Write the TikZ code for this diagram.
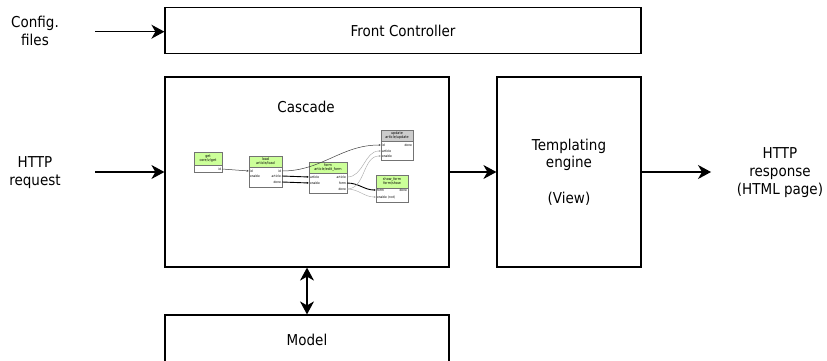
\documentclass[tikz,border=0pt]{standalone}
\usepackage{fontspec}
\setmainfont{DejaVu Sans}[FakeStretch=0.9]
\usetikzlibrary{arrows.meta}

\definecolor{hdgreen}{HTML}{CCFF99}
\definecolor{hdgray}{HTML}{CCCCCC}

\tikzset{
  block/.style={draw, line width=1.2pt, fill=white, font=\fontsize{15}{17.7}\selectfont, align=center},
  txt/.style={font=\fontsize{15}{17.7}\selectfont, align=center},
  flow/.style={line width=1.2pt, -{Stealth[length=13pt,width=14pt,inset=4pt]}},
  cell/.style={draw=black!55, line width=0.5pt, fill=white, inner sep=0pt},
  head/.style={draw=black!55, line width=0.5pt, inner sep=0pt, font=\fontsize{3.7}{4.3}\selectfont, align=center},
  port/.style={font=\fontsize{3.3}{3.8}\selectfont, inner sep=0.8pt},
  wire/.style={line width=0.5pt, draw=black!75, -{Latex[length=2.2pt,width=2pt]}},
  fat/.style={wire, line width=0.9pt, draw=black},
  pale/.style={wire, line width=0.4pt, draw=black!35},
}

\begin{document}
\begin{tikzpicture}[x=1pt,y=-1pt]
  \clip (0,0) rectangle (827,361);

  % main blocks
  \node[block, minimum width=476, minimum height=46] (front) at (403,30.5) {Front Controller};
  \node[block, minimum width=284, minimum height=190] (cascade) at (307,172) {};
  \node[txt] (casctitle) at (306,106.5) {Cascade};
  \node[block, minimum width=144, minimum height=190] (tmpl) at (569,172) {Templating\\engine\\[17.7pt](View)};
  \node[block, minimum width=284, minimum height=50] (model) at (307,340) {Model};

  % outside texts
  \node[txt] (config) at (35,31) {Config.\\files};
  \node[txt] (request) at (35,172.5) {HTTP\\request};
  \node[txt] (response) at (780,172.5) {HTTP\\response\\(HTML page)};
  \coordinate (cfgin) at (95,31.7);
  \coordinate (reqin) at (95,172);
  \coordinate (respout) at (711,172);

  \draw[flow] (cfgin) -- (cfgin -| front.west);
  \draw[flow] (reqin) -- (cascade.west);
  \draw[flow] (cascade.east) -- (tmpl.west);
  \draw[flow] (tmpl.east) -- (respout);
  \draw[flow, {Stealth[length=13pt,width=14pt,inset=4pt]}-{Stealth[length=13pt,width=14pt,inset=4pt]}] (cascade.south) -- (model.north);

  % cascade components
  \node[cell, minimum width=28, minimum height=20] (get) at (208,162) {};
  \node[head, fill=hdgreen, minimum width=28, minimum height=13, anchor=north] (gethd) at (get.north) {get\\core/v/get};
  \node[cell, minimum width=33, minimum height=31] (load) at (265.5,171.5) {};
  \node[head, fill=hdgreen, minimum width=33, minimum height=11, anchor=north] (loadhd) at (load.north) {load\\article/load};
  \node[cell, minimum width=38, minimum height=31] (form) at (328,177.5) {};
  \node[head, fill=hdgreen, minimum width=38, minimum height=11, anchor=north] (formhd) at (form.north) {form\\article/edit\_form};
  \node[cell, minimum width=32, minimum height=30] (update) at (397,145) {};
  \node[head, fill=hdgray, minimum width=32, minimum height=11, anchor=north] (updatehd) at (update.north) {update\\article/update};
  \node[cell, minimum width=32, minimum height=27] (show) at (392,188.5) {};
  \node[head, fill=hdgreen, minimum width=32, minimum height=13, anchor=north] (showhd) at (show.north) {show\_form\\form/show};

  % ports
  \coordinate (get-id-o) at (222,169);
  \coordinate (load-id-i) at (249,171);
  \coordinate (load-en-i) at (249,176);
  \coordinate (load-id-o) at (282,171);
  \coordinate (load-art-o) at (282,176);
  \coordinate (load-done-o) at (282,182);
  \coordinate (form-art-i) at (309,177);
  \coordinate (form-en-i) at (309,183);
  \coordinate (form-art-o) at (347,177);
  \coordinate (form-form-o) at (347,183);
  \coordinate (form-done-o) at (347,189);
  \coordinate (upd-id-i) at (381,145);
  \coordinate (upd-art-i) at (381,151);
  \coordinate (upd-en-i) at (381,156);
  \coordinate (upd-done-o) at (413,145);
  \coordinate (show-form-i) at (376,190);
  \coordinate (show-en-i) at (376,197);
  \coordinate (show-done-o) at (408,190);

  \node[port, anchor=east] at (get-id-o) {id};
  \node[port, anchor=west] at (load-id-i) {id};
  \node[port, anchor=west] at (load-en-i) {enable};
  \node[port, anchor=east] at (load-id-o) {id};
  \node[port, anchor=east] at (load-art-o) {article};
  \node[port, anchor=east] at (load-done-o) {done};
  \node[port, anchor=west] at (form-art-i) {article};
  \node[port, anchor=west] at (form-en-i) {enable};
  \node[port, anchor=east] at (form-art-o) {article};
  \node[port, anchor=east] at (form-form-o) {form};
  \node[port, anchor=east] at (form-done-o) {done};
  \node[port, anchor=west] at (upd-id-i) {id};
  \node[port, anchor=west] at (upd-art-i) {article};
  \node[port, anchor=west] at (upd-en-i) {enable};
  \node[port, anchor=east] at (upd-done-o) {done};
  \node[port, anchor=west] at (show-form-i) {form};
  \node[port, anchor=west] at (show-en-i) {enable (not)};
  \node[port, anchor=east] at (show-done-o) {done};

  % wires
  \draw[wire] (get-id-o) -- (load-id-i);
  \draw[wire] (load-id-o) to[out=0, in=180] (upd-id-i);
  \draw[fat] (load-art-o) -- (form-art-i);
  \draw[fat] (load-done-o) -- (form-en-i);
  \draw[pale] (form-art-o) to[out=0, in=180] (upd-art-i);
  \draw[fat] (form-form-o) to[out=0, in=180] (show-form-i);
  \draw[pale] (form-done-o) to[out=0, in=180] (upd-en-i);
  \draw[pale] (form-done-o) to[out=0, in=180] (show-en-i);
\end{tikzpicture}
\end{document}
